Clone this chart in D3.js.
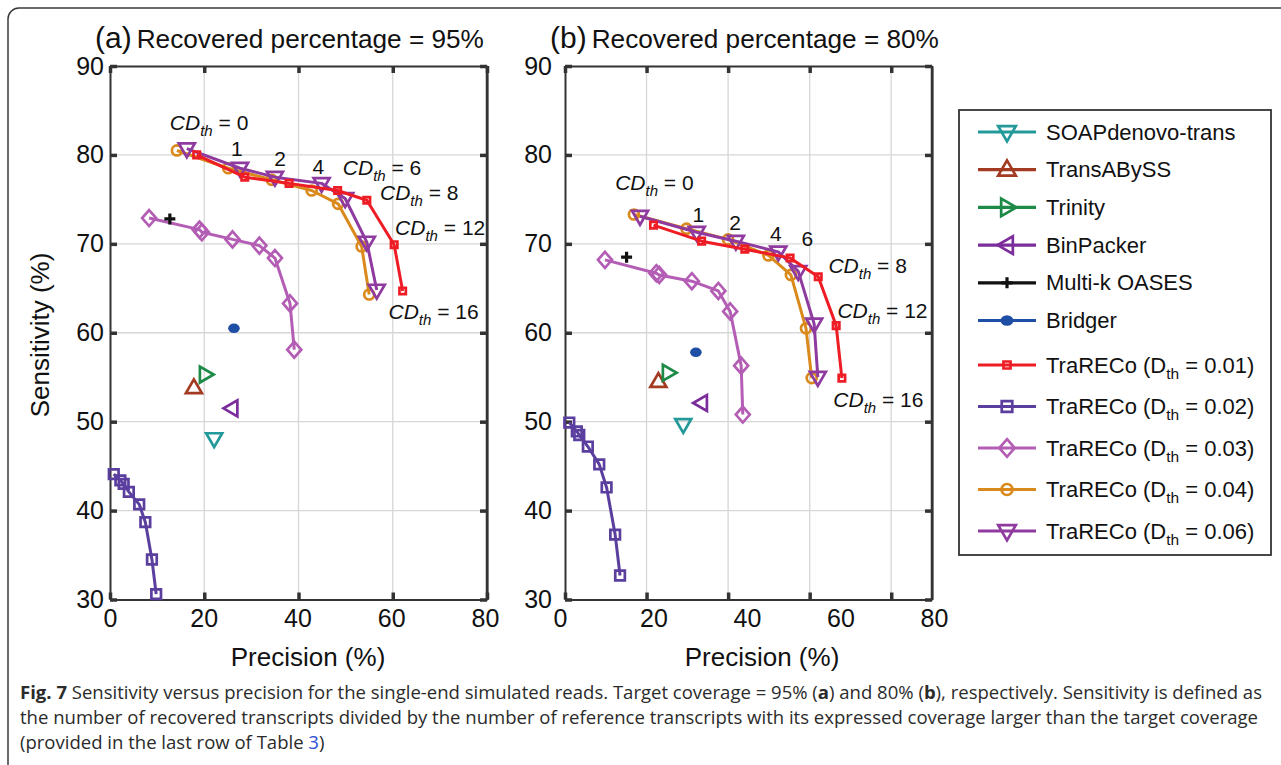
<!DOCTYPE html>
<html><head><meta charset="utf-8">
<script src="https://cdn.jsdelivr.net/npm/d3@7"></script>
<style>
body{margin:0;background:#fff;}
svg{display:block;font-family:"Liberation Sans",Arial,Helvetica,sans-serif;}
</style>
</head><body>
<svg id="chart" width="1281" height="765"></svg>
<script>
// ---------------- DATA ----------------
const methodNames = ["SOAPdenovo-trans","TransABySS","Trinity","BinPacker","Multi-k OASES","Bridger"];
const methodColors = ["#23999a","#a33a22","#1d8a48","#7b2d9c","#111111","#1f4fa5"];
const methodMarkers = ["triDown","triUp","triRight","triLeft","plus","dot"];
const methodPrecisionA = [22.1,17.8,20.2,25.9,12.7,26.3];
const methodSensitivityA = [48.1,53.8,55.3,51.5,72.8,60.5];
const methodPrecisionB = [29.0,22.9,25.3,33.5,15.1,32.1];
const methodSensitivityB = [49.7,54.5,55.5,52.1,68.5,57.8];

const dthValues = ["0.01","0.02","0.03","0.04","0.06"];
const dthColors = ["#ee1c25","#5b3f9f","#b35db5","#da8a1c","#8e3a9f"];
const dthMarkers = ["smallSquare","square","diamond","circle","triDown"];

// TraRECo curves, [precision %, sensitivity %], panel (a)
const traA_001 = [[18.4,80.0],[28.6,77.5],[38.0,76.8],[48.3,76.0],[54.5,74.9],[60.3,69.9],[62.1,64.7]];
const traA_002 = [[0.8,44.1],[2.2,43.4],[2.9,43.0],[4.0,42.1],[6.2,40.7],[7.5,38.7],[8.9,34.5],[9.8,30.6]];
const traA_003 = [[8.3,72.9],[19.0,71.6],[19.5,71.3],[26.0,70.5],[31.7,69.8],[35.0,68.4],[38.2,63.3],[39.1,58.1]];
const traA_004 = [[14.2,80.5],[25.1,78.5],[34.3,77.2],[42.8,76.0],[48.4,74.5],[53.4,69.7],[55.0,64.3]];
const traA_006 = [[16.3,80.7],[27.6,78.5],[35.0,77.5],[44.9,76.8],[49.9,75.1],[54.5,70.2],[56.6,64.8]];
// panel (b)
const traB_001 = [[21.7,72.1],[33.5,70.3],[44.1,69.4],[55.2,68.4],[62.1,66.3],[66.5,60.8],[67.9,54.9]];
const traB_002 = [[1.05,49.9],[2.9,48.9],[3.5,48.5],[5.6,47.2],[8.4,45.2],[10.2,42.6],[12.3,37.3],[13.5,32.7]];
const traB_003 = [[9.8,68.2],[22.4,66.7],[23.1,66.5],[31.1,65.8],[37.6,64.7],[40.5,62.4],[43.2,56.3],[43.6,50.8]];
const traB_004 = [[16.9,73.3],[29.8,71.7],[40.0,70.5],[49.9,68.7],[55.4,66.5],[59.1,60.5],[60.5,54.9]];
const traB_006 = [[18.4,73.1],[32.3,71.3],[41.9,70.3],[52.3,69.1],[57.2,66.9],[61.1,61.0],[62.0,55.0]];

// CD_th annotations: [kind, value, precision, sensitivity]
const annotA = [["cd","0",12.7,82.8],["n","1",26.9,79.9],["n","2",36.1,78.7],["n","4",44.2,77.9],
                ["cd","6",49.4,77.7],["cd","8",57.3,74.9],["cd","12",60.5,71.0],["cd","16",59.1,61.6]];
const annotB = [["cd","0",12.3,76.1],["n","1",32.7,72.5],["n","2",41.7,71.6],["n","4",51.7,70.3],
                ["n","6",59.4,69.8],["cd","8",64.6,66.7],["cd","12",66.8,61.7],["cd","16",65.8,51.7]];

const xTicks = [0,20,40,60,80];
const yTicks = [30,40,50,60,70,80,90];

// ---------------- DRAW ----------------
const svg = d3.select("#chart");
const AX = "#333";

// outer frame
svg.append("rect").attr("x",8).attr("y",8).attr("width",1300).attr("height",800)
  .attr("rx",11).attr("fill","none").attr("stroke","#3a3a3a").attr("stroke-width",1.5);

function marker(g, type, cx, cy, color, k){
  k = k || 1;
  const sw = 2.7;
  const p = (d)=>g.append("path").attr("d",d).attr("fill","none").attr("stroke",color)
      .attr("stroke-width",sw).attr("stroke-linejoin","miter");
  const a = 8*k, b = 5.3*k, c = 8.5*k;
  switch(type){
    case "triDown": p(`M${cx-a},${cy-b}L${cx+a},${cy-b}L${cx},${cy+c}Z`); break;
    case "triUp":   p(`M${cx-a},${cy+b}L${cx+a},${cy+b}L${cx},${cy-c}Z`); break;
    case "triRight":p(`M${cx-b},${cy-a}L${cx-b},${cy+a}L${cx+c},${cy}Z`); break;
    case "triLeft": p(`M${cx+b},${cy-a}L${cx+b},${cy+a}L${cx-c},${cy}Z`); break;
    case "diamond": p(`M${cx},${cy-8*k}L${cx+7*k},${cy}L${cx},${cy+8*k}L${cx-7*k},${cy}Z`); break;
    case "square":  p(`M${cx-4.8*k},${cy-4.8*k}h${9.6*k}v${9.6*k}h${-9.6*k}Z`); break;
    case "smallSquare": p(`M${cx-3.2*k},${cy-3.2*k}h${6.4*k}v${6.4*k}h${-6.4*k}Z`); break;
    case "circle":  g.append("circle").attr("cx",cx).attr("cy",cy).attr("r",5*k)
                      .attr("fill","none").attr("stroke",color).attr("stroke-width",sw); break;
    case "plus":    p(`M${cx-5.5},${cy}H${cx+5.5}M${cx},${cy-5.5}V${cy+5.5}`).attr("stroke-width",3.2); break;
    case "dot":     g.append("ellipse").attr("cx",cx).attr("cy",cy).attr("rx",5.8*k).attr("ry",4.8*k)
                      .attr("fill",color); break;
  }
}

function drawPanel(cfg){
  const g = svg.append("g");
  const x = d3.scaleLinear().domain(cfg.xDomain).range(cfg.xRange);
  const y = d3.scaleLinear().domain([30,90]).range([599.5,66]);
  const [x0,x1] = cfg.xRange;

  // grid
  g.append("g").selectAll("line").data(xTicks.filter(t=>x(t)>x0+1 && x(t)<x1-1)).join("line")
    .attr("x1",d=>x(d)).attr("x2",d=>x(d)).attr("y1",y(30)).attr("y2",y(90))
    .attr("stroke","#d8d6d6").attr("stroke-width",1.3);
  g.append("g").selectAll("line").data(yTicks.slice(1,-1)).join("line")
    .attr("x1",x0).attr("x2",x1).attr("y1",d=>y(d)).attr("y2",d=>y(d))
    .attr("stroke","#d8d6d6").attr("stroke-width",1.3);

  // axes (tick marks inward on all four sides)
  const style = (sel)=>{ sel.select(".domain").attr("stroke",AX).attr("stroke-width",2);
                         sel.selectAll(".tick line").attr("stroke",AX).attr("stroke-width",3.5); };
  const bottom = g.append("g").attr("transform",`translate(0,${y(30)})`)
    .call(d3.axisBottom(x).tickValues(xTicks).tickSizeInner(-7).tickSizeOuter(0).tickFormat(""));
  style(bottom);
  const top = g.append("g").attr("transform",`translate(0,${y(90)})`)
    .call(d3.axisTop(x).tickValues(xTicks).tickSizeInner(-7).tickSizeOuter(0).tickFormat(""));
  style(top);
  const left = g.append("g").attr("transform",`translate(${x0},0)`)
    .call(d3.axisLeft(y).tickValues(yTicks).tickSizeInner(-7).tickSizeOuter(0)
      .tickPadding(cfg.yPad).tickFormat(d3.format("d")));
  style(left);
  left.selectAll("text").attr("font-size",25).attr("fill","#111").attr("font-family","Liberation Sans, Arial, sans-serif");
  const right = g.append("g").attr("transform",`translate(${x1},0)`)
    .call(d3.axisRight(y).tickValues(yTicks).tickSizeInner(-7).tickSizeOuter(0).tickFormat(""));
  style(right);
  g.append("line").attr("x1",x1).attr("x2",x1).attr("y1",y(90)).attr("y2",y(30)).attr("stroke",AX).attr("stroke-width",2.5);

  // x tick labels (own label scale)
  const xl = d3.scaleLinear().domain([0,80]).range(cfg.xLabelRange);
  const lab = g.append("g").attr("transform",`translate(0,${y(30)})`)
    .call(d3.axisBottom(xl).tickValues(xTicks).tickSize(0).tickPadding(10).tickFormat(d3.format("d")));
  lab.select(".domain").remove();
  lab.selectAll("text").attr("font-size",25).attr("fill","#111").attr("font-family","Liberation Sans, Arial, sans-serif");

  // x title
  g.append("text").attr("x",cfg.xTitleX).attr("y",666).attr("text-anchor","middle")
    .attr("font-size",26).attr("fill","#111").text("Precision (%)");

  // title
  const t = g.append("text").attr("x",cfg.titleX).attr("y",48).attr("fill","#111");
  t.append("tspan").attr("font-size",30).text(cfg.letter);
  t.append("tspan").attr("font-size",26.2).attr("dx",5).text(cfg.title);

  // curves (draw order: 0.02, 0.03, 0.04, 0.06, 0.01)
  const line = d3.line().x(d=>x(d[0])).y(d=>y(d[1]));
  [1,2,3,4,0].forEach(i=>{
    const data = cfg.curves[i];
    const cg = g.append("g");
    cg.append("path").attr("d",line(data)).attr("fill","none").attr("stroke",dthColors[i])
      .attr("stroke-width",3).attr("stroke-linejoin","round");
    data.forEach(d=>marker(cg, dthMarkers[i], x(d[0]), y(d[1]), dthColors[i]));
  });

  // single-point methods
  methodNames.forEach((m,i)=>{
    marker(g, methodMarkers[i], x(cfg.prec[i]), y(cfg.sens[i]), methodColors[i]);
  });

  // annotations
  cfg.annots.forEach(a=>{
    const [kind,val,px,py] = a;
    if(kind==="n"){
      g.append("text").attr("x",x(px)).attr("y",y(py)).attr("text-anchor","middle")
        .attr("font-size",21).attr("fill","#111").text(val);
    } else {
      const tt = g.append("text").attr("x",x(px)).attr("y",y(py)).attr("font-size",21).attr("fill","#111");
      tt.append("tspan").attr("font-style","italic").text("CD");
      tt.append("tspan").attr("font-style","italic").attr("font-size",15).attr("dy",6).text("th");
      tt.append("tspan").attr("dy",-6).text(" = " + val);
    }
  });
}

drawPanel({xDomain:[0,80], xRange:[110,487], xLabelRange:[110,485], yPad:6, xTitleX:308,
  titleX:95, letter:"(a)", title:"Recovered percentage = 95%",
  curves:[traA_001,traA_002,traA_003,traA_004,traA_006],
  prec:methodPrecisionA, sens:methodSensitivityA, annots:annotA});
drawPanel({xDomain:[0,90], xRange:[565,932], xLabelRange:[560,934], yPad:13, xTitleX:762,
  titleX:550, letter:"(b)", title:"Recovered percentage = 80%",
  curves:[traB_001,traB_002,traB_003,traB_004,traB_006],
  prec:methodPrecisionB, sens:methodSensitivityB, annots:annotB});

// y title
svg.append("text").attr("transform","translate(49,335) rotate(-90)").attr("text-anchor","middle")
  .attr("font-size",26).attr("fill","#111").text("Sensitivity (%)");

// ---------------- LEGEND ----------------
const lg = svg.append("g");
lg.append("rect").attr("x",959).attr("y",110).attr("width",312).attr("height",445)
  .attr("fill","#fff").attr("stroke","#333").attr("stroke-width",1.8);
const legendItems = methodNames.map((n,i)=>({name:n,color:methodColors[i],mk:methodMarkers[i],dth:null}))
  .concat(dthValues.map((v,i)=>({name:"TraRECo",color:dthColors[i],mk:dthMarkers[i],dth:v})));
legendItems.forEach((it,i)=>{
  const cy = i<6 ? 132 + i*37.7 : 365 + (i-6)*41.5;
  lg.append("line").attr("x1",978).attr("x2",1036).attr("y1",cy).attr("y2",cy)
    .attr("stroke",it.color).attr("stroke-width",3.2);
  marker(lg, it.mk, 1007, cy, it.color, 1.1);
  const tx = lg.append("text").attr("x",1046).attr("y",cy+7.5).attr("font-size",22).attr("fill","#111");
  if(it.dth===null){ tx.text(it.name); }
  else {
    tx.append("tspan").text("TraRECo (D");
    tx.append("tspan").attr("font-size",15.5).attr("dy",6).text("th");
    tx.append("tspan").attr("dy",-6).text(" = " + it.dth + ")");
  }
});

// ---------------- CAPTION ----------------
const cap = svg.append("g").attr("font-family","'Open Sans', 'Noto Sans', sans-serif").attr("fill","#2b2b2b");
const l1 = cap.append("text").attr("x",20).attr("y",699).attr("font-size",18);
l1.append("tspan").attr("font-weight","bold").text("Fig. 7");
l1.append("tspan").text(" Sensitivity versus precision for the single-end simulated reads. Target coverage = 95% (");
l1.append("tspan").attr("font-weight","bold").text("a");
l1.append("tspan").text(") and 80% (");
l1.append("tspan").attr("font-weight","bold").text("b");
l1.append("tspan").text("), respectively. Sensitivity is defined as");
const n1 = l1.node().getComputedTextLength();
const ratio = 1242 / n1;
l1.attr("textLength",1242).attr("lengthAdjust","spacingAndGlyphs");
const l2 = cap.append("text").attr("x",20).attr("y",724).attr("font-size",18)
  .text("the number of recovered transcripts divided by the number of reference transcripts with its expressed coverage larger than the target coverage");
l2.attr("textLength",1238).attr("lengthAdjust","spacingAndGlyphs");
const l3 = cap.append("text").attr("x",20).attr("y",749).attr("font-size",18);
l3.append("tspan").text("(provided in the last row of Table ");
l3.append("tspan").attr("fill","#2a4fd6").text("3");
l3.append("tspan").text(")");
const n3 = l3.node().getComputedTextLength();
l3.attr("textLength",n3*ratio).attr("lengthAdjust","spacingAndGlyphs");
</script>
</body></html>
